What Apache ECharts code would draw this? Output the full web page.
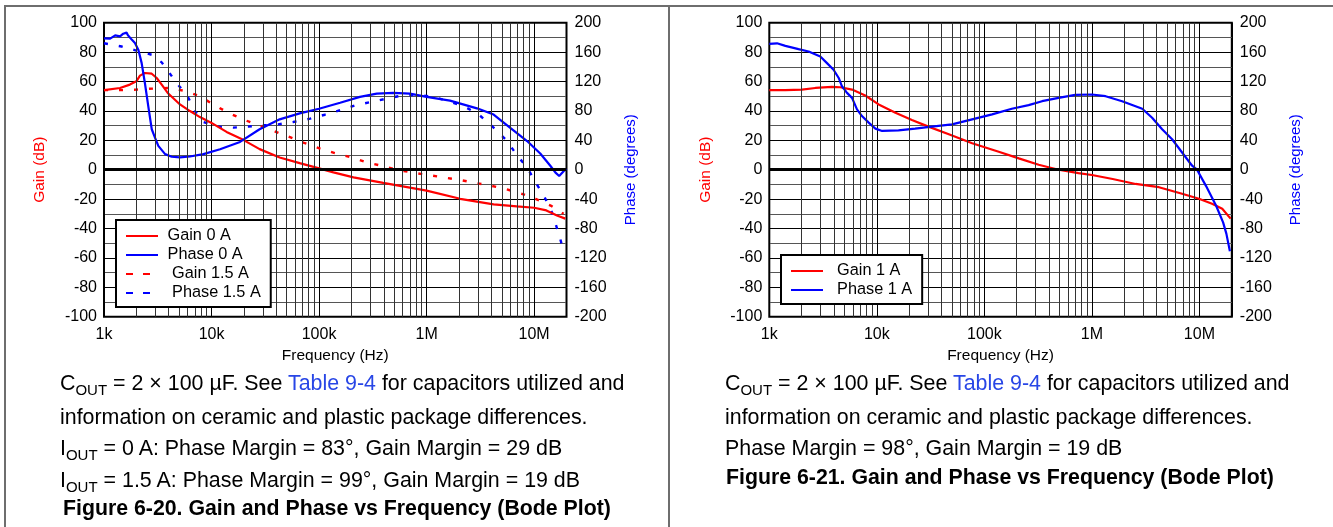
<!DOCTYPE html>
<html><head><meta charset="utf-8">
<script src="https://cdn.jsdelivr.net/npm/echarts@6/dist/echarts.min.js"></script>
<style>
html,body{margin:0;padding:0;background:#fff;width:1333px;height:527px;overflow:hidden;font-family:'Liberation Sans',Arial,sans-serif;}
#chart{position:absolute;left:0;top:0;width:1333px;height:527px;}
.cap{position:absolute;white-space:nowrap;font-size:21.4px;line-height:22px;color:#000;}
.cap sub{font-size:15px;vertical-align:-5px;line-height:0;}
.b{font-weight:bold;font-size:21.3px;}
.lnk{color:#2846e6;}
.frame{position:absolute;background:#6e6e6e;}
</style></head><body>
<div id="chart"></div>
<div class="frame" style="left:4px;top:5px;width:1329px;height:1.5px"></div>
<div class="frame" style="left:4px;top:5px;width:1.5px;height:522px"></div>
<div class="frame" style="left:668px;top:5px;width:1.5px;height:522px"></div>

<div class="cap" style="left:60px;top:372px">C<sub>OUT</sub> = 2 × 100 µF. See <span class="lnk">Table 9-4</span> for capacitors utilized and</div>
<div class="cap" style="left:60px;top:406px">information on ceramic and plastic package differences.</div>
<div class="cap" style="left:60px;top:437px">I<sub>OUT</sub> = 0 A: Phase Margin = 83°, Gain Margin = 29 dB</div>
<div class="cap" style="left:60px;top:469px">I<sub>OUT</sub> = 1.5 A: Phase Margin = 99°, Gain Margin = 19 dB</div>
<div class="cap b" style="left:63px;top:497px">Figure 6-20. Gain and Phase vs Frequency (Bode Plot)</div>

<div class="cap" style="left:725px;top:372px">C<sub>OUT</sub> = 2 × 100 µF. See <span class="lnk">Table 9-4</span> for capacitors utilized and</div>
<div class="cap" style="left:725px;top:406px">information on ceramic and plastic package differences.</div>
<div class="cap" style="left:725px;top:437px">Phase Margin = 98°, Gain Margin = 19 dB</div>
<div class="cap b" style="left:726px;top:466px">Figure 6-21. Gain and Phase vs Frequency (Bode Plot)</div>

<script>
// ---------- data (frequency in Hz, gain in dB, phase in degrees) ----------
const xTickLabels = ['1k', '10k', '100k', '1M', '10M'];
const gainTicks = [-100, -80, -60, -40, -20, 0, 20, 40, 60, 80, 100];
const phaseTicks = [-200, -160, -120, -80, -40, 0, 40, 80, 120, 160, 200];
const minorFreqs = [2e3,3e3,4e3,5e3,6e3,7e3,8e3,9e3, 2e4,3e4,4e4,5e4,6e4,7e4,8e4,9e4,
  2e5,3e5,4e5,5e5,6e5,7e5,8e5,9e5, 2e6,3e6,4e6,5e6,6e6,7e6,8e6,9e6];

const freqGain0 = [1000,1410,1740,2000,2160,2400,2780,3090,3440,3960,5090,6300,7800,9900,13800,19700,28000,43000,66000,100000,136000,209000,395000,1000000,2050000,4200000,6900000,10000000,13000000,16300000,19500000];
const gain0 = [54.1,55.6,57.9,60.1,64,65.8,65.3,62.4,57.9,51.8,44.4,39.9,35.8,32,25.7,20.3,14,8.3,4.5,0.9,-1.8,-5.2,-9,-14.2,-19.8,-23.6,-25,-25.9,-27.7,-31.1,-33.3];

const freqPhase0 = [1000,1140,1270,1410,1510,1620,1670,1810,1940,2090,2240,2400,2580,2780,2980,3200,3700,4260,5090,6300,8400,12000,18400,28000,43000,66000,100000,157000,240000,344000,490000,700000,1000000,1650000,2940000,4200000,6000000,8600000,11400000,14200000,15800000,17100000,18800000,20000000];
const phase0 = [178.8,178.4,182.8,181.5,185,186.5,182.8,177,172.4,163,145,118,86.5,55,43.7,32.4,21.2,17.6,16.7,18,21.2,27.9,37.8,55,68.5,76.6,82.9,91,99.1,103.6,104.5,103.6,99,94,83.5,75,57,39,22,5,-4,-8.6,-2,1];

const freqGain15 = [1000,1460,2010,2870,3960,5470,7540,10400,14300,19700,27300,37700,51900,74000,102000,140000,200000,277000,381000,522000,720000,1030000,1430000,2050000,2830000,3900000,5400000,7700000,10300000,14600000,18800000];
const gain15 = [54.1,54.1,54.5,55.2,55.6,53.8,50.5,44.4,38.7,34.2,30.2,26.4,22.5,18,14.4,11.3,8.3,5,2.7,0,-1.8,-3.6,-5.2,-7,-9,-10.8,-13.1,-16.4,-19.8,-24.8,-30];

const freqPhase15 = [1000,1460,2780,3440,4170,5020,6100,6900,8400,11100,15900,21900,30200,41600,57500,82600,113000,157000,216000,298000,427000,589000,840000,1160000,1600000,2210000,3050000,4200000,5600000,6900000,8600000,10300000,12300000,14600000,17300000,18800000];
const phase15 = [172,167.6,156.3,146,129.3,113.5,97.7,81,64.9,58.6,57.2,58.6,60.4,61.7,64.9,69.4,74.8,81,87.4,91.9,96.8,100.9,101.8,99.1,93.2,86.5,75.2,57.2,39.2,19.8,3.2,-17.1,-35.1,-57.7,-91.4,-111.7];

const freqGain1 = [1000,1410,2010,2680,3830,4570,5880,7800,10400,14900,21200,30200,46700,77000,136000,209000,320000,490000,750000,1000000,1560000,2550000,4200000,6900000,9900000,13100000,16300000,19500000];
const gain1 = [54.1,54.1,54.5,55.6,56.3,56.1,54.5,50.5,44.4,38.7,33.8,29.3,24.1,18,12.2,7.7,3.4,0,-2.3,-3.6,-6.3,-9.7,-11.9,-16.4,-19.8,-23.2,-26.6,-33.3];

const freqPhase1 = [1000,1180,1410,1870,2320,2980,3440,3960,4420,4740,5280,5880,6540,7270,8400,9700,11200,15900,22700,32500,50000,77000,118000,180000,258000,344000,490000,700000,1000000,1340000,1910000,2940000,3630000,4500000,5570000,6900000,8550000,9500000,11500000,14300000,16600000,17800000,19200000];
const phase1 = [171.2,172,168.5,164,160.8,154,145,136,124.8,113.5,104.5,97.7,82,73,64,55.9,52.7,53.6,55.9,58.6,61.7,68.5,75.2,82.9,87.8,93.2,97.7,101.8,102.3,100,93.2,82.9,70.7,55,41.4,23.4,5.4,0,-22,-49,-71.6,-87,-111];

// ---------- helpers ----------
const zip = (xs, ys) => xs.map((x, i) => [x, ys[i]]);
const FONT = "'Liberation Sans', Arial, sans-serif";
const RED = '#ff0000', BLUE = '#0000ff';

function xAxisFor(grid) {
  return {
    gridIndex: grid, type: 'log', logBase: 10, min: 1000, max: 2e7,
    name: 'Frequency (Hz)', nameLocation: 'middle', nameGap: 26,
    nameTextStyle: { color: '#000', fontSize: 15.5, fontFamily: FONT },
    axisLine: { show: false, onZero: false }, axisTick: { show: false },
    axisLabel: { color: '#000', fontSize: 16, fontFamily: FONT, margin: 10,
      formatter: v => { const e = Math.log10(v); const r = Math.round(e);
        return Math.abs(e - r) < 1e-6 && r >= 3 && r <= 7 ? xTickLabels[r - 3] : ''; } },
    splitLine: { show: true, lineStyle: { color: '#000', width: 1 } }
  };
}
function gainAxis(grid) {
  return {
    gridIndex: grid, type: 'value', position: 'left', min: gainTicks[0], max: gainTicks[gainTicks.length - 1], interval: 20,
    name: 'Gain (dB)', nameLocation: 'middle', nameRotate: 90, nameGap: 56,
    nameTextStyle: { color: RED, fontSize: 15.5, fontFamily: FONT },
    axisLine: { show: false }, axisTick: { show: false },
    axisLabel: { color: '#000', fontSize: 16, fontFamily: FONT, margin: 7 },
    splitLine: { show: true, lineStyle: { color: '#000', width: 1 } },
    minorTick: { show: false, splitNumber: 2 },
    minorSplitLine: { show: true, lineStyle: { color: '#555', width: 1 } }
  };
}
function phaseAxis(grid) {
  return {
    gridIndex: grid, type: 'value', position: 'right', min: phaseTicks[0], max: phaseTicks[phaseTicks.length - 1], interval: 40,
    name: 'Phase (degrees)', nameLocation: 'middle', nameRotate: 90, nameGap: 57,
    nameTextStyle: { color: BLUE, fontSize: 15, fontFamily: FONT },
    axisLine: { show: false }, axisTick: { show: false },
    axisLabel: { color: '#000', fontSize: 16, fontFamily: FONT, margin: 8 },
    splitLine: { show: false }
  };
}
function gridHelper(xi, yi) {
  return {
    type: 'line', xAxisIndex: xi, yAxisIndex: yi, data: [], z: 1, silent: true,
    markLine: {
      silent: true, symbol: ['none', 'none'], animation: false, label: { show: false },
      data: minorFreqs.map(f => ({ xAxis: f, lineStyle: { color: '#333', width: 1, type: 'solid' } }))
        .concat([{ yAxis: 0, lineStyle: { color: '#000', width: 3, type: 'solid' } }])
    }
  };
}
function lineSeries(name, xi, yi, data, color, dashed) {
  return {
    name, type: 'line', xAxisIndex: xi, yAxisIndex: yi, data, z: 3,
    symbol: 'none', showSymbol: false, smooth: false,
    lineStyle: { color, width: dashed ? 2.4 : 2.2, type: dashed ? [4, 11] : 'solid' },
    itemStyle: { color }
  };
}
const legendBase = {
  orient: 'vertical', itemWidth: 32, itemHeight: 14, itemGap: 3, z: 20,
  backgroundColor: '#fff', borderColor: '#000', borderWidth: 2, borderRadius: 0,
  padding: [8, 10, 6, 9], selectedMode: false,
  itemStyle: { color: 'rgba(0,0,0,0)', borderWidth: 0, opacity: 0 },
  textStyle: { color: '#000', fontSize: 16.3, fontFamily: FONT }
};

const chart = echarts.init(document.getElementById('chart'), null, { renderer: 'canvas' });
chart.setOption({
  animation: false,
  textStyle: { fontFamily: FONT },
  grid: [
    { left: 104, top: 22.7, width: 462.5, height: 294, show: true, borderColor: '#000', borderWidth: 2, backgroundColor: '#fff' },
    { left: 769.3, top: 22.7, width: 462.5, height: 294, show: true, borderColor: '#000', borderWidth: 2, backgroundColor: '#fff' }
  ],
  xAxis: [xAxisFor(0), xAxisFor(1)],
  yAxis: [gainAxis(0), phaseAxis(0), gainAxis(1), phaseAxis(1)],
  legend: [
    Object.assign({}, legendBase, {
      left: 116, top: 220,
      data: [
        { name: 'Gain 0 A' }, { name: 'Phase 0 A' },
        { name: 'Gain 1.5 A', lineStyle: { type: [7, 10] } },
        { name: 'Phase 1.5 A', lineStyle: { type: [7, 10] } }
      ],
      formatter: n => (n.indexOf('1.5') >= 0 ? '  ' : ' ') + n
    }),
    Object.assign({}, legendBase, {
      left: 781, top: 255,
      data: [{ name: 'Gain 1 A' }, { name: 'Phase 1 A' }],
      formatter: n => '  ' + n
    })
  ],
  series: [
    gridHelper(0, 0),
    gridHelper(1, 2),
    lineSeries('Gain 1.5 A', 0, 0, zip(freqGain15, gain15), RED, true),
    lineSeries('Phase 1.5 A', 0, 1, zip(freqPhase15, phase15), BLUE, true),
    lineSeries('Gain 0 A', 0, 0, zip(freqGain0, gain0), RED, false),
    lineSeries('Phase 0 A', 0, 1, zip(freqPhase0, phase0), BLUE, false),
    lineSeries('Gain 1 A', 1, 2, zip(freqGain1, gain1), RED, false),
    lineSeries('Phase 1 A', 1, 3, zip(freqPhase1, phase1), BLUE, false)
  ]
});
</script>
</body></html>
